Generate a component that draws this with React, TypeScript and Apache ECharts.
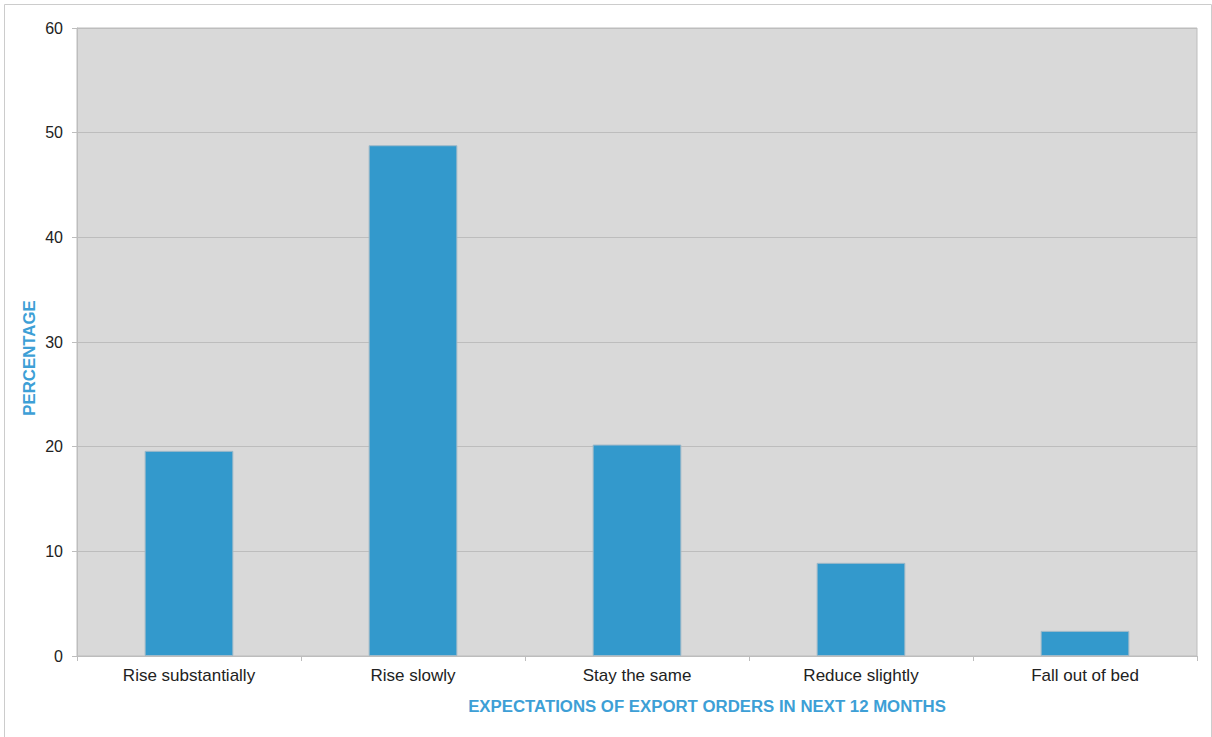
import React, { useEffect, useRef } from "react";
import * as echarts from "echarts";

const categories = ["Rise substantially", "Rise slowly", "Stay the same", "Reduce slightly", "Fall out of bed"];
const values = [19.6, 48.8, 20.2, 8.9, 2.4];
const yTicks = { min: 0, max: 60, interval: 10 };
const xAxisTitle = "EXPECTATIONS OF EXPORT ORDERS IN NEXT 12 MONTHS";
const yAxisTitle = "PERCENTAGE";

export default function App() {
  const ref = useRef<HTMLDivElement>(null);
  useEffect(() => {
    if (!ref.current) return;
    const chart = echarts.init(ref.current, null, { renderer: "svg" });
    const font = "Arial, 'Liberation Sans', sans-serif";
    chart.setOption({
      animation: false,
      backgroundColor: "#ffffff",
      grid: {
        left: 77,
        top: 28,
        right: 15,
        bottom: 81,
        show: true,
        backgroundColor: "#d9d9d9",
        borderColor: "#bdbdbd",
        borderWidth: 1,
      },
      xAxis: {
        type: "category",
        data: categories,
        axisLine: { show: true, lineStyle: { color: "#bdbdbd", width: 1 } },
        axisTick: { show: true, alignWithLabel: false, length: 5, lineStyle: { color: "#bdbdbd" } },
        axisLabel: { color: "#222", fontSize: 17, fontFamily: font, margin: 11, interval: 0 },
        splitLine: { show: false },
      },
      yAxis: {
        type: "value",
        min: yTicks.min,
        max: yTicks.max,
        interval: yTicks.interval,
        axisLine: { show: true, lineStyle: { color: "#bdbdbd", width: 1 } },
        axisTick: { show: true, length: 5, lineStyle: { color: "#bdbdbd" } },
        axisLabel: { color: "#222", fontSize: 16, fontFamily: font, margin: 14 },
        splitLine: { show: true, lineStyle: { color: "#bdbdbd", width: 1 } },
      },
      series: [
        {
          type: "bar",
          data: values,
          barWidth: "39.6%",
          itemStyle: { color: "#3399cc", borderColor: "#9fb9c8", borderWidth: 1 },
        },
      ],
      graphic: [
        {
          type: "rect",
          left: 2,
          top: 2,
          shape: { width: 1207, height: 733 },
          style: { fill: "none", stroke: "#cccccc", lineWidth: 1 },
          silent: true,
        },
        {
          type: "text",
          x: 707,
          y: 706,
          style: {
            text: xAxisTitle,
            fill: "#3d9fd6",
            font: `bold 16.8px ${font}`,
            align: "center",
            verticalAlign: "middle",
          },
        },
        {
          type: "text",
          x: 29,
          y: 358,
          rotation: Math.PI / 2,
          style: {
            text: yAxisTitle,
            fill: "#3d9fd6",
            font: `bold 16.8px ${font}`,
            align: "center",
            verticalAlign: "middle",
          },
        },
      ],
    });
    return () => chart.dispose();
  }, []);
  return (
    <div
      ref={ref}
      style={{ position: "fixed", left: 0, top: 0, width: 1212, height: 737 }}
    />
  );
}
